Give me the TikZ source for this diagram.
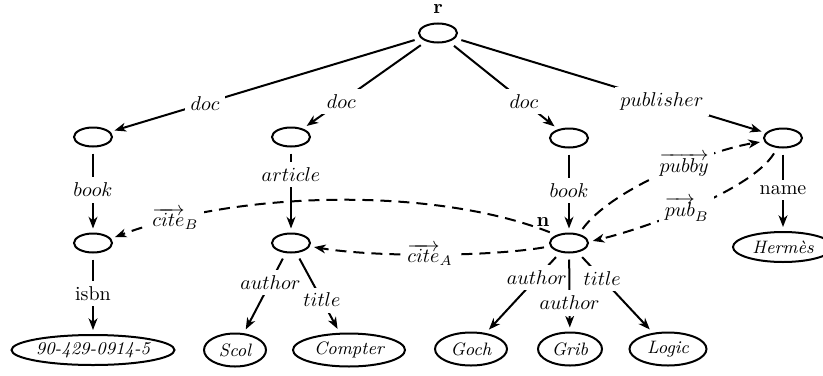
\documentclass[tikz,border=0pt]{standalone}
\usetikzlibrary{shapes.geometric,arrows.meta}
\begin{document}
\begin{tikzpicture}[x=0.5pt,y=0.5pt,
  sm/.style={ellipse,draw,line width=1pt,minimum width=19pt,minimum height=9.5pt,inner sep=0pt,outer sep=2.5pt},
  leaf/.style={ellipse,draw,line width=1pt,minimum height=16.5pt,inner sep=0pt,outer sep=2.5pt,font=\small\itshape},
  lab/.style={fill=white,inner sep=2.8pt},
  arc/.style={line width=1pt,-{Stealth[length=5.8pt,width=4.4pt,inset=1.7pt]},shorten <=1pt},
  darc/.style={arc,dash pattern=on 5.5pt off 3.5pt}]
\useasboundingbox (0,0) rectangle (823,-375);

% internal nodes
\node[sm] (r)  at (438,-33)  {};
\node[inner sep=0pt] (rl) at (438,-9) {$\mathbf{r}$};
\node[sm] (d1) at (93,-137)  {};
\node[sm] (d2) at (291,-137) {};
\node[sm] (d3) at (569,-138) {};
\node[sm] (p)  at (783,-138) {};
\node[sm] (b1) at (93,-243)  {};
\node[sm] (a2) at (291,-243) {};
\node[sm] (n)  at (569,-243) {};
\node[inner sep=0pt] (nl) at (543,-222) {$\mathbf{n}$};

% leaves
\node[leaf,minimum width=81.5pt,minimum height=15pt] (isbn) at (93,-350) {90-429-0914-5};
\node[leaf,minimum width=31pt] (scol)    at (235,-350) {Scol};
\node[leaf,minimum width=56pt] (compter) at (349,-350) {Compter};
\node[leaf,minimum width=36pt] (goch)    at (471,-349) {Goch};
\node[leaf,minimum width=32pt] (grib)    at (570,-349) {Grib};
\node[leaf,minimum width=38.5pt] (logic) at (668,-349) {Logic};
\node[leaf,minimum width=50pt,minimum height=15pt] (her) at (783,-247) {Hermès};

% tree edges
\draw[arc] (r) -- node[lab,pos=0.7]{$doc$} (d1);
\draw[arc] (r) -- node[lab,pos=0.7]{$doc$} (d2);
\draw[arc] (r) -- node[lab,pos=0.7]{$doc$} (d3);
\draw[arc] (r) -- node[lab,pos=0.67]{$publisher$} (p);
\draw[arc] (d1) -- node[lab]{$book$} (b1);
\draw[arc] (d3) -- node[lab]{$book$} (n);
\draw[arc] (p) -- node[lab]{name} (her);
\draw[arc] (b1) -- node[lab]{isbn} (isbn);

% reference edges
\draw[darc] (n.150) .. controls +(-117,46) and +(125,47) .. node[lab,pos=0.85]{$\overrightarrow{cite}_B$} (b1.15);
\draw[darc] (n.190) .. controls +(-60,-10) and +(60,-10) .. node[lab,pos=0.5]{$\overrightarrow{cite}_A$} (a2.-10);
\draw[darc] (n.45) .. controls +(30,42) and +(-50,-8) .. node[lab,pos=0.6]{$\overrightarrow{pubby}$} (p.190);
\draw[darc] (p.240) .. controls +(-25,-40) and +(50,12) .. node[lab,pos=0.53]{$\overrightarrow{pub}_B$} (n.5);

\draw[arc] (d2) -- node[lab,pos=0.3]{$article$} (a2);
\draw[arc] (a2) -- node[lab,pos=0.35]{$author$} (scol);
\draw[arc] (a2) -- node[lab,pos=0.6]{$title$} (compter);
\draw[arc] (n) -- node[lab,pos=0.3]{$author$} (goch);
\draw[arc] (n) -- node[lab,pos=0.65]{$author$} (grib);
\draw[arc] (n) -- node[lab,pos=0.31]{$title$} (logic);
\end{tikzpicture}
\end{document}
